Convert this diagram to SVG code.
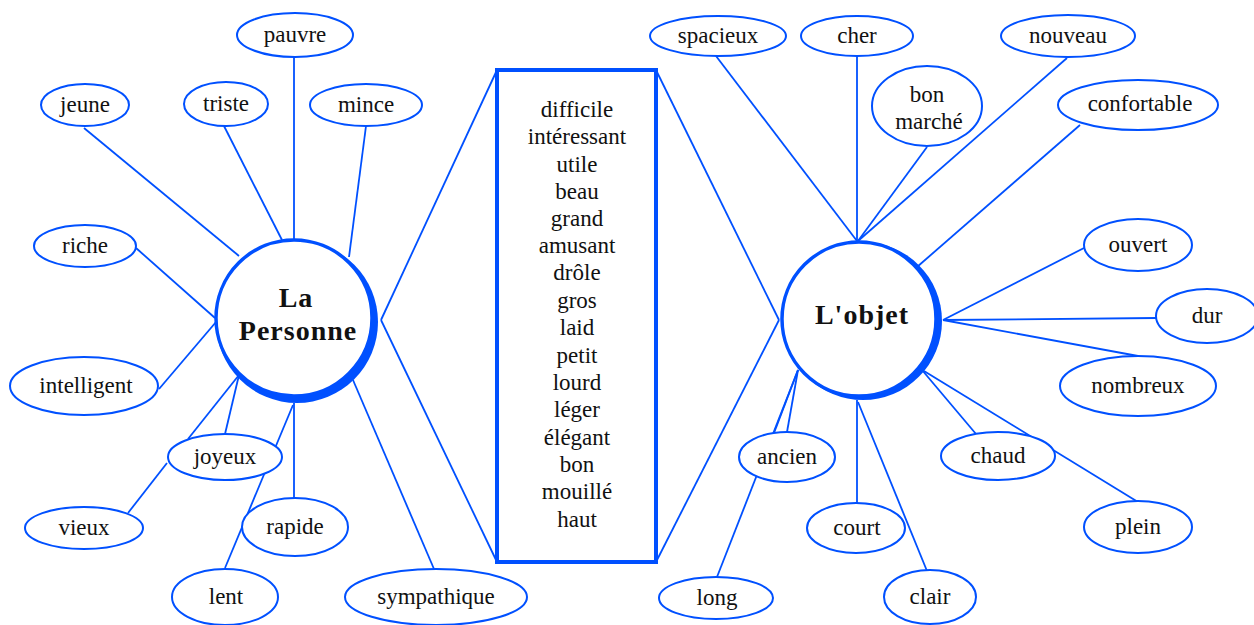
<svg xmlns="http://www.w3.org/2000/svg" width="1254" height="625" viewBox="0 0 1254 625">
<style>
.n ellipse{fill:#fff;stroke:#0050ff;stroke-width:2}
.t{font-family:"Liberation Serif","Times New Roman",serif;font-size:23px;fill:#111;text-anchor:middle}
.b{font-family:"Liberation Serif","Times New Roman",serif;font-size:28px;font-weight:bold;letter-spacing:1px;fill:#111;text-anchor:middle}
#connectors line{stroke:#0050ff;stroke-width:1.8}
</style>
<rect width="1254" height="625" fill="#fff"/>
<g id="connectors">
<line x1="84" y1="128" x2="239" y2="256"/>
<line x1="224" y1="126" x2="282" y2="240"/>
<line x1="294" y1="57" x2="294" y2="240"/>
<line x1="366" y1="126" x2="349" y2="257"/>
<line x1="136" y1="248" x2="215" y2="318"/>
<line x1="159" y1="389" x2="216" y2="322"/>
<line x1="239" y1="375" x2="188" y2="439"/>
<line x1="239" y1="375" x2="225" y2="434"/>
<line x1="167" y1="463" x2="128" y2="513"/>
<line x1="293" y1="405" x2="225" y2="568"/>
<line x1="294" y1="403" x2="294" y2="498"/>
<line x1="353" y1="380" x2="434" y2="569"/>
<line x1="381" y1="320" x2="497" y2="70"/>
<line x1="381" y1="320" x2="497" y2="562"/>
<line x1="779" y1="320" x2="656" y2="70"/>
<line x1="779" y1="320" x2="656" y2="562"/>
<line x1="716" y1="56" x2="857" y2="241"/>
<line x1="857" y1="56" x2="857" y2="241"/>
<line x1="927" y1="147" x2="858" y2="241"/>
<line x1="1067" y1="58" x2="858" y2="241"/>
<line x1="1080" y1="125" x2="917" y2="267"/>
<line x1="1084" y1="248" x2="943" y2="320"/>
<line x1="1156" y1="318" x2="943" y2="320"/>
<line x1="1138" y1="356" x2="943" y2="320"/>
<line x1="922" y1="370" x2="976" y2="434"/>
<line x1="924" y1="371" x2="1138" y2="502"/>
<line x1="798" y1="370" x2="774" y2="433"/>
<line x1="798" y1="370" x2="787" y2="432"/>
<line x1="798" y1="370" x2="717" y2="577"/>
<line x1="857" y1="400" x2="857" y2="503"/>
<line x1="858" y1="402" x2="927" y2="571"/>
</g>
<g id="box">
<rect x="497" y="70" width="159" height="492" fill="#fff" stroke="#0050ff" stroke-width="4"/>
<text class="t" x="577" y="117">difficile</text>
<text class="t" x="577" y="144">intéressant</text>
<text class="t" x="577" y="172">utile</text>
<text class="t" x="577" y="199">beau</text>
<text class="t" x="577" y="226">grand</text>
<text class="t" x="577" y="253">amusant</text>
<text class="t" x="577" y="280">drôle</text>
<text class="t" x="577" y="308">gros</text>
<text class="t" x="577" y="335">laid</text>
<text class="t" x="577" y="363">petit</text>
<text class="t" x="577" y="390">lourd</text>
<text class="t" x="577" y="417">léger</text>
<text class="t" x="577" y="445">élégant</text>
<text class="t" x="577" y="472">bon</text>
<text class="t" x="577" y="499">mouillé</text>
<text class="t" x="577" y="527">haut</text>
</g>
<g id="personne">
<circle cx="297" cy="322" r="81" fill="#0050ff"/>
<circle cx="294" cy="318" r="78" fill="#fff" stroke="#0050ff" stroke-width="3.5"/>
<text class="b" x="296" y="307">La</text>
<text class="b" x="298" y="340">Personne</text>
</g>
<g id="objet">
<circle cx="863" cy="321" r="79" fill="#0050ff"/>
<circle cx="859" cy="319" r="77" fill="#fff" stroke="#0050ff" stroke-width="3.5"/>
<text class="b" x="862" y="324">L'objet</text>
</g>
<g id="pauvre" class="n"><ellipse cx="295" cy="35" rx="58" ry="22"/><text class="t" x="295" y="42">pauvre</text></g>
<g id="jeune" class="n"><ellipse cx="85" cy="105" rx="44" ry="21"/><text class="t" x="85" y="112">jeune</text></g>
<g id="triste" class="n"><ellipse cx="226" cy="104" rx="42" ry="22"/><text class="t" x="226" y="111">triste</text></g>
<g id="mince" class="n"><ellipse cx="366" cy="105" rx="56" ry="21"/><text class="t" x="366" y="112">mince</text></g>
<g id="riche" class="n"><ellipse cx="85" cy="246" rx="51" ry="21"/><text class="t" x="85" y="253">riche</text></g>
<g id="intelligent" class="n"><ellipse cx="84" cy="386" rx="74" ry="29"/><text class="t" x="86" y="393">intelligent</text></g>
<g id="joyeux" class="n"><ellipse cx="225" cy="457" rx="57" ry="23"/><text class="t" x="225" y="464">joyeux</text></g>
<g id="vieux" class="n"><ellipse cx="84" cy="528" rx="59" ry="21"/><text class="t" x="84" y="535">vieux</text></g>
<g id="rapide" class="n"><ellipse cx="295" cy="527" rx="53" ry="29"/><text class="t" x="295" y="534">rapide</text></g>
<g id="lent" class="n"><ellipse cx="225" cy="597" rx="53" ry="28"/><text class="t" x="226" y="604">lent</text></g>
<g id="sympathique" class="n"><ellipse cx="436" cy="597" rx="91" ry="28"/><text class="t" x="436" y="604">sympathique</text></g>
<g id="spacieux" class="n"><ellipse cx="718" cy="36" rx="68" ry="20"/><text class="t" x="718" y="43">spacieux</text></g>
<g id="cher" class="n"><ellipse cx="857" cy="36" rx="56" ry="20"/><text class="t" x="857" y="43">cher</text></g>
<g id="nouveau" class="n"><ellipse cx="1068" cy="36" rx="67" ry="21"/><text class="t" x="1068" y="43">nouveau</text></g>
<g id="bonmarche" class="n"><ellipse cx="927" cy="106" rx="55" ry="40"/><text class="t" x="927" y="102">bon</text><text class="t" x="929" y="129">marché</text></g>
<g id="confortable" class="n"><ellipse cx="1138" cy="105" rx="80" ry="25"/><text class="t" x="1140" y="111">confortable</text></g>
<g id="ouvert" class="n"><ellipse cx="1138" cy="245" rx="54" ry="26"/><text class="t" x="1138" y="252">ouvert</text></g>
<g id="dur" class="n"><ellipse cx="1207" cy="316" rx="51" ry="27"/><text class="t" x="1207" y="323">dur</text></g>
<g id="nombreux" class="n"><ellipse cx="1138" cy="386" rx="78" ry="30"/><text class="t" x="1138" y="393">nombreux</text></g>
<g id="chaud" class="n"><ellipse cx="998" cy="456" rx="57" ry="24"/><text class="t" x="998" y="463">chaud</text></g>
<g id="plein" class="n"><ellipse cx="1138" cy="527" rx="54" ry="26"/><text class="t" x="1138" y="534">plein</text></g>
<g id="ancien" class="n"><ellipse cx="787" cy="457" rx="48" ry="25"/><text class="t" x="787" y="464">ancien</text></g>
<g id="court" class="n"><ellipse cx="856" cy="528" rx="49" ry="25"/><text class="t" x="857" y="535">court</text></g>
<g id="long" class="n"><ellipse cx="716" cy="598" rx="57" ry="21"/><text class="t" x="717" y="605">long</text></g>
<g id="clair" class="n"><ellipse cx="930" cy="597" rx="46" ry="27"/><text class="t" x="930" y="604">clair</text></g>
</svg>
